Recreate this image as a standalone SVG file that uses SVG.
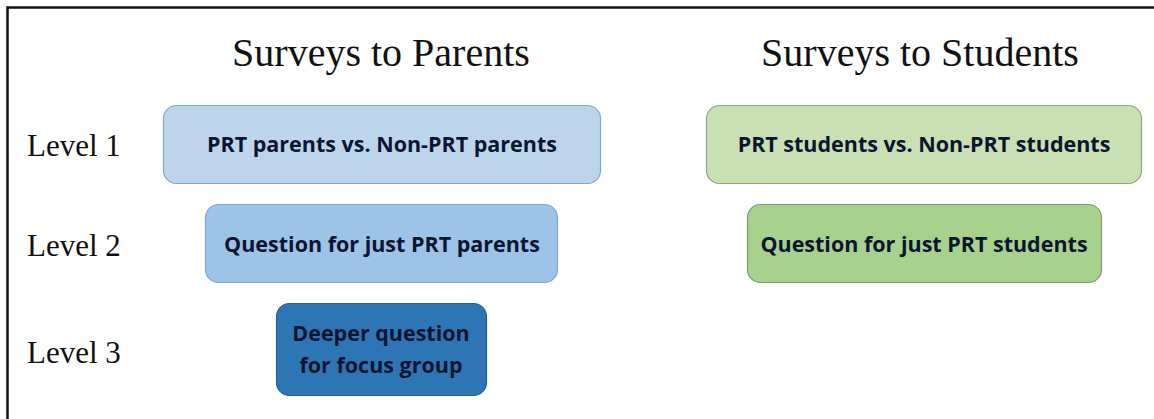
<svg xmlns="http://www.w3.org/2000/svg" width="1154" height="419" viewBox="0 0 1154 419">
<style>
.title{font-family:"Liberation Serif",serif;font-size:40px;fill:#111;text-anchor:middle}
.lvl{font-family:"Liberation Serif",serif;font-size:31px;fill:#111}
.box{stroke-width:1.2}
.bt{font-family:"Open Sans","Noto Sans",sans-serif;font-weight:bold;font-size:21.5px;fill:#0b1530;text-anchor:middle}
</style>
<rect width="1154" height="419" fill="#fff"/>
<path d="M7.5 419 V7.5 H1154" fill="none" stroke="#111" stroke-width="2.5"/>
<text class="title" x="381" y="66">Surveys to Parents</text>
<text class="title" x="920" y="66">Surveys to Students</text>
<text class="lvl" x="27" y="156">Level 1</text>
<text class="lvl" x="27" y="256">Level 2</text>
<text class="lvl" x="27" y="363">Level 3</text>
<g id="connectors"></g>
<g id="p1"><rect class="box" x="163.5" y="105.5" width="437" height="78" rx="13" fill="#bdd5eb" stroke="#7ea9d6"/><text class="bt" x="382" y="152">PRT parents vs. Non-PRT parents</text></g>
<g id="p2"><rect class="box" x="205.5" y="204.5" width="352" height="78" rx="13" fill="#9dc3e6" stroke="#7ea9d6"/><text class="bt" x="382" y="252">Question for just PRT parents</text></g>
<g id="p3"><rect class="box" x="276.5" y="303.5" width="210" height="92" rx="13" fill="#2e75b6" stroke="#2b5f94"/><text class="bt" x="381" y="341">Deeper question</text><text class="bt" x="381" y="373">for focus group</text></g>
<g id="s1"><rect class="box" x="706.5" y="105.5" width="435" height="78" rx="13" fill="#c9e0b5" stroke="#8fa880"/><text class="bt" x="924" y="152">PRT students vs. Non-PRT students</text></g>
<g id="s2"><rect class="box" x="747.5" y="204.5" width="354" height="78" rx="13" fill="#a9d18e" stroke="#7f9a70"/><text class="bt" x="924" y="252">Question for just PRT students</text></g>
</svg>
